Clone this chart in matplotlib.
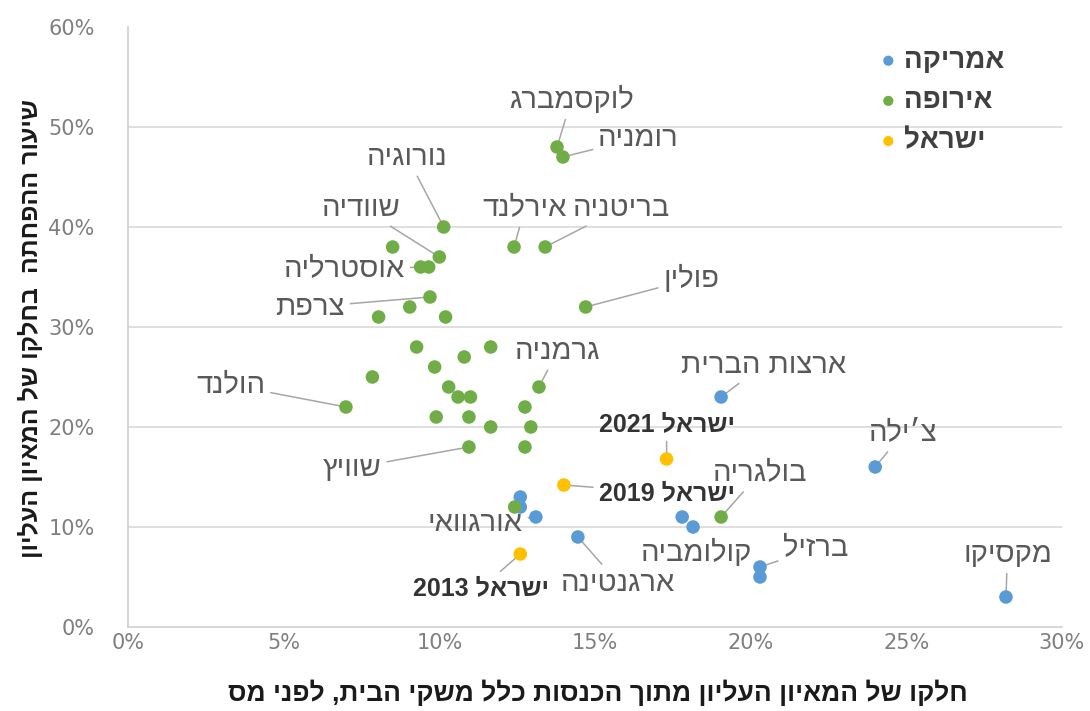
import matplotlib
matplotlib.use("Agg")
import matplotlib.pyplot as plt
import numpy as np

# ---------------- data ----------------
groups = ['אמריקה', 'אירופה', 'ישראל']
group_colors = ['#5B9BD5', '#70AD47', '#FFC000']

# America
am_names = ['ארצות הברית', "צ׳ילה", 'מקסיקו', 'ברזיל', 'קולומביה', '', '',
            'ארגנטינה', 'אורגוואי', '', '']
am_x = [19.05, 24.0, 28.2, 20.3, 20.3, 17.8, 18.15, 14.45, 13.1, 12.6, 12.6]
am_y = [23, 16, 3, 6, 5, 11, 10, 9, 11, 13, 12]

# Europe
eu_names = ['לוקסמברג', 'רומניה', 'נורוגיה', '', 'שוודיה', 'אוסטרליה', '',
            'אירלנד', 'בריטניה', 'צרפת', '', '', '', 'פולין', 'הולנד', '', '',
            '', '', '', '', '', '', '', '', 'שוויץ', 'גרמניה', '', '', '', '',
            'בולגריה', '']
eu_x = [13.78, 13.97, 10.14, 8.5, 10.0, 9.66, 9.4, 12.4, 13.4, 9.7, 9.05,
        8.05, 10.2, 14.7, 7.0, 7.85, 9.27, 9.85, 10.3, 10.6, 11.0, 9.9, 10.95,
        10.8, 11.65, 10.95, 13.2, 12.75, 12.94, 12.75, 11.65, 19.05, 12.42]
eu_y = [48, 47, 40, 38, 37, 36, 36, 38, 38, 33, 32, 31, 31, 32, 22, 25, 28,
        26, 24, 23, 23, 21, 21, 27, 28, 18, 24, 22, 20, 18, 20, 11, 12]

# Israel
il_names = ['ישראל 2021', 'ישראל 2019', 'ישראל 2013']
il_x = [17.3, 14.0, 12.6]
il_y = [16.8, 14.2, 7.3]

# label placement (text centre in data units, leader line on/off)
label_pos = {
    'לוקסמברג': (14.24, 52.7, True),
    'רומניה': (16.4, 48.9, True),
    'נורוגיה': (8.97, 47.0, True),
    'שוודיה': (7.5, 41.9, True),
    'אוסטרליה': (6.95, 35.8, True),
    'אירלנד': (12.75, 41.9, True),
    'בריטניה': (15.85, 41.9, True),
    'פולין': (18.1, 34.8, True),
    'צרפת': (5.85, 32.0, True),
    'הולנד': (3.3, 24.2, True),
    'שוויץ': (7.2, 15.9, True),
    'גרמניה': (13.8, 27.6, True),
    'ארצות הברית': (20.4, 26.2, True),
    "צ׳ילה": (24.9, 19.4, True),
    'בולגריה': (20.3, 15.4, True),
    'אורגוואי': (11.15, 10.4, True),
    'ארגנטינה': (15.75, 4.4, True),
    'קולומביה': (18.25, 7.4, False),
    'ברזיל': (22.1, 7.9, True),
    'מקסיקו': (28.25, 7.3, True),
    'ישראל 2021': (17.3, 20.3, True),
    'ישראל 2019': (17.3, 13.4, True),
    'ישראל 2013': (11.35, 3.9, True),
}

x_title = 'חלקו של המאיון העליון מתוך הכנסות כלל משקי הבית, לפני מס'
y_title = 'שיעור ההפחתה  בחלקו של המאיון העליון'


def rtl(s):
    # matplotlib has no bidi support, so build the visual order by hand
    out = []
    for w in s.split(' ')[::-1]:
        if any('\u0590' <= c <= '\u05ff' for c in w):
            w = w[::-1]
        out.append(w)
    return ' '.join(out)


plt.rcParams['font.family'] = ['Liberation Sans', 'DejaVu Sans']

fig = plt.figure(figsize=(10.9, 7.11), dpi=100)
ax = fig.add_axes([128 / 1090, 1 - 627 / 711, (1062 - 128) / 1090, 600 / 711])

series = [(am_x, am_y, am_names), (eu_x, eu_y, eu_names), (il_x, il_y, il_names)]
for (xs, ys, names), g, c in zip(series, groups, group_colors):
    ax.scatter(xs, ys, s=95, color=c, edgecolors='none', zorder=4, label=rtl(g))
    for xv, yv, nm in zip(xs, ys, names):
        if not nm:
            continue
        tx, ty, line = label_pos[nm]
        bold = nm.startswith('ישראל')
        ap = dict(arrowstyle='-', color='#a6a6a6', lw=1.1, shrinkA=2, shrinkB=0) if line else None
        ax.annotate(rtl(nm), xy=(xv, yv), xytext=(tx, ty), ha='center', va='center',
                    fontsize=18 if bold else 21, fontweight='bold' if bold else 'normal',
                    color='#333333' if bold else '#595959', arrowprops=ap, zorder=3)

ax.set_xlim(0, 30)
ax.set_ylim(0, 60)
ax.set_xticks(np.arange(0, 31, 5))
ax.set_yticks(np.arange(0, 61, 10))
ax.set_xticklabels([f'{v}%' for v in range(0, 31, 5)], family='DejaVu Sans')
ax.set_yticklabels([f'{v}%' for v in range(0, 61, 10)], family='DejaVu Sans')
ax.tick_params(length=0, labelsize=15, labelcolor='#7f7f7f', pad=4)
ax.tick_params(axis='y', pad=24)

for v in range(10, 60, 10):
    ax.axhline(v, color='#d9d9d9', lw=1.2, zorder=1)
for sp in ['top', 'right']:
    ax.spines[sp].set_visible(False)
for sp in ['left', 'bottom']:
    ax.spines[sp].set_color('#d0d0d0')
    ax.spines[sp].set_linewidth(1.2)

fig.text(598 / 1090, 1 - 693 / 711, rtl(x_title), ha='center', va='center',
         fontsize=19, fontweight='bold', color='#1a1a1a')
fig.text(30 / 1090, 1 - 328 / 711, rtl(y_title), ha='center', va='center', rotation=90,
         fontsize=18, fontweight='bold', color='#1a1a1a')

leg = ax.legend(loc='upper left', bbox_to_anchor=(855 / 1090, 1 - 23 / 711),
                bbox_transform=fig.transFigure, frameon=False, handlelength=0.6,
                handletextpad=0.25, labelspacing=0.51, markerscale=0.75,
                prop={'size': 20, 'weight': 'bold'})
for t in leg.get_texts():
    t.set_color('#404040')

fig.savefig('out.png', dpi=100)
